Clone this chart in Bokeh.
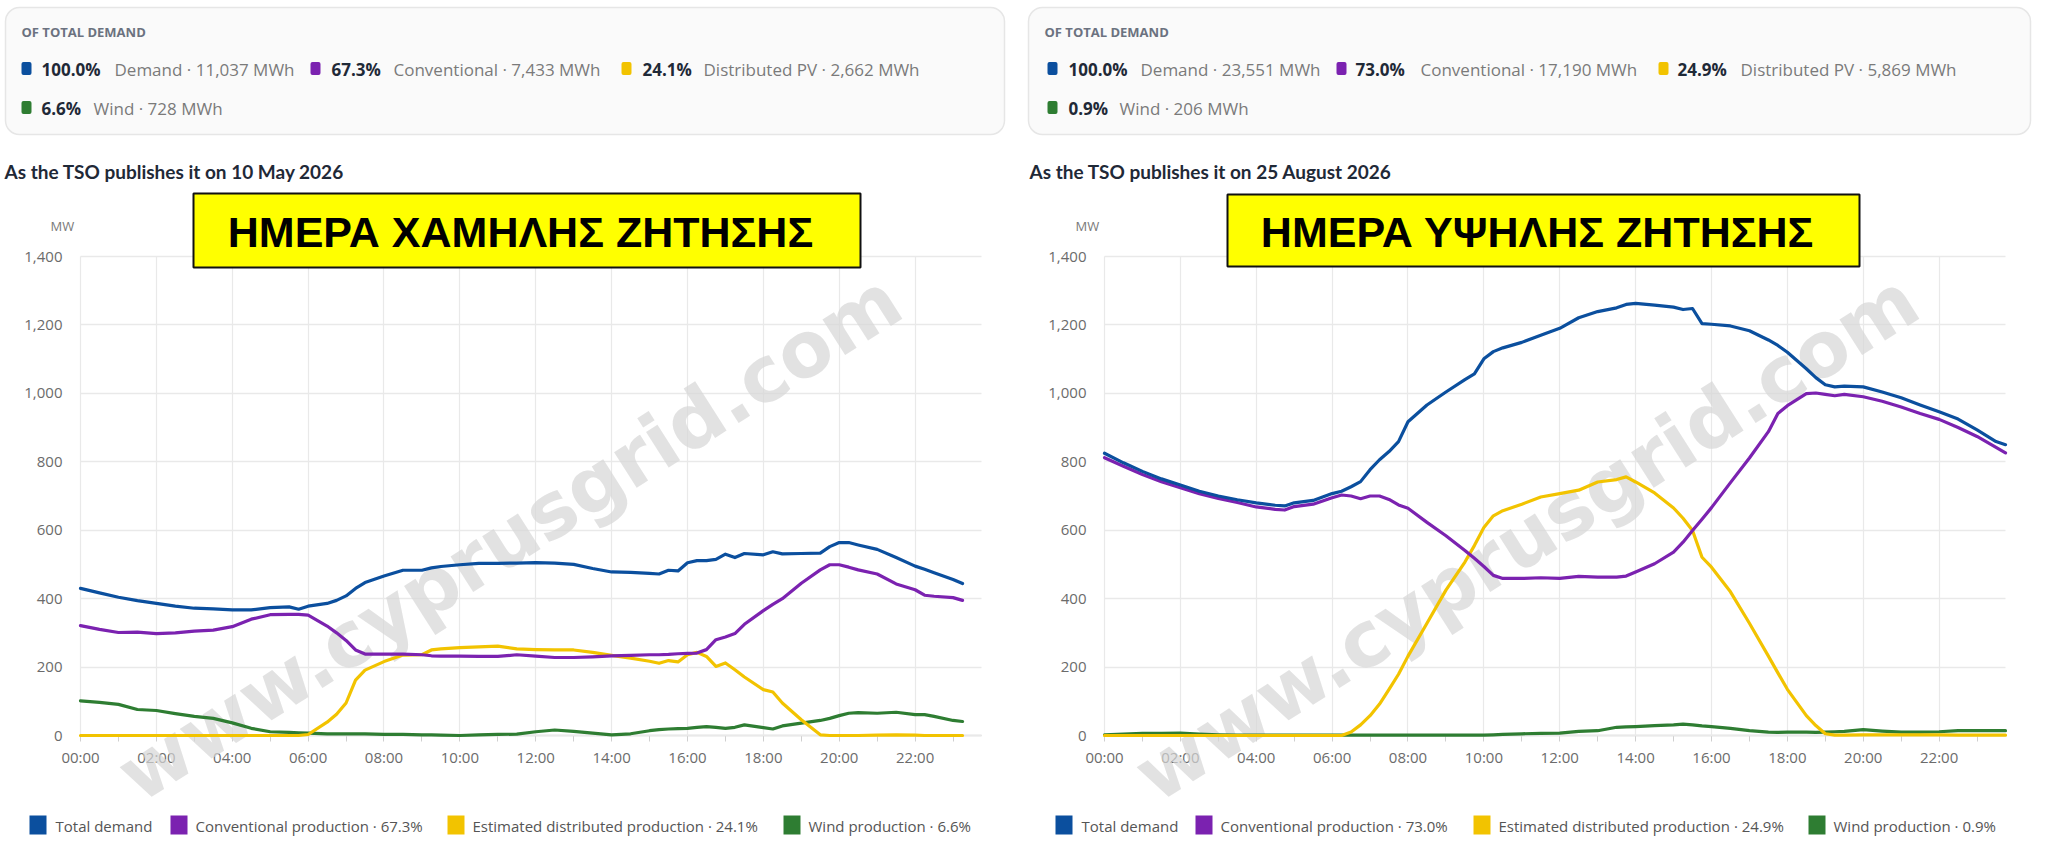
import math
from bokeh.plotting import figure
from bokeh.models import (Range1d, FixedTicker, NumeralTickFormatter, Label, LinearAxis,
                          Grid, BoxAnnotation, ColumnDataSource)
from bokeh.layouts import row
from bokeh.embed import file_html
from bokeh.resources import INLINE

# ---------------------------------------------------------------- data
X_TICK_HOURS = [0, 2, 4, 6, 8, 10, 12, 14, 16, 18, 20, 22]
X_TICK_LABELS = ["00:00", "02:00", "04:00", "06:00", "08:00", "10:00",
                 "12:00", "14:00", "16:00", "18:00", "20:00", "22:00"]
X_MINOR_HOURS = [1, 3, 5, 7, 9, 11, 13, 15, 17, 19, 21, 23]
Y_TICKS = [0, 200, 400, 600, 800, 1000, 1200, 1400]
X_MAX_HOURS = 23.75
Y_MAX_MW = 1400

# --- 10 May 2026 (low demand day)
LEFT_TIMES = ["00:00", "00:30", "01:00", "01:30", "02:00", "02:30", "03:00", "03:30", "04:00", "04:30",
              "05:00", "05:30", "05:45", "06:00", "06:30", "06:45", "07:00", "07:15", "07:30", "08:00",
              "08:30", "09:00", "09:15", "09:30", "10:00", "10:30", "11:00", "11:30", "12:00", "12:30",
              "13:00", "13:30", "14:00", "14:30", "15:00", "15:15", "15:30", "15:45", "16:00", "16:15",
              "16:30", "16:45", "17:00", "17:15", "17:30", "18:00", "18:15", "18:30", "19:00", "19:30",
              "19:45", "20:00", "20:15", "20:30", "21:00", "21:30", "22:00", "22:15", "22:30", "23:00",
              "23:15"]
LEFT_DEMAND = [430, 417, 404, 394, 386, 378, 372, 370, 367, 367,
               374, 376, 369, 378, 386, 395, 408, 430, 447, 466,
               483, 483, 490, 494, 499, 503, 503, 504, 505, 504,
               500, 488, 478, 477, 474, 472, 483, 481, 505, 511,
               511, 515, 530, 520, 532, 528, 537, 531, 532, 533,
               552, 564, 564, 557, 544, 520, 495, 486, 476, 456,
               444]
LEFT_CONVENTIONAL = [321, 310, 301, 302, 298, 300, 305, 308, 318, 340,
                     353, 354, 354, 352, 320, 300, 278, 250, 238, 238,
                     238, 236, 233, 232, 232, 231, 231, 236, 232, 228,
                     228, 230, 233, 234, 236, 236, 237, 239, 240, 241,
                     251, 280, 288, 298, 325, 365, 383, 400, 445, 484,
                     499, 499, 492, 484, 472, 443, 426, 410, 407, 403,
                     395]
LEFT_PV = [0, 0, 0, 0, 0, 0, 0, 0, 0, 0,
           0, 0, 0, 3, 39, 62, 95, 162, 191, 216,
           235, 236, 250, 253, 257, 259, 261, 253, 251, 250,
           250, 243, 234, 226, 217, 211, 219, 215, 236, 243,
           231, 202, 212, 192, 171, 134, 127, 95, 46, 2,
           0, 0, 0, 0, 1, 2, 1, 0, 0, 0,
           0]
LEFT_WIND = [101, 97, 91, 76, 73, 64, 56, 50, 37, 21,
             11, 9, 8, 7, 5, 5, 5, 5, 5, 3,
             3, 2, 2, 1, 0, 2, 3, 4, 11, 16,
             12, 7, 2, 5, 14, 17, 19, 20, 21, 24,
             26, 24, 21, 24, 31, 23, 19, 28, 36, 44,
             50, 58, 65, 67, 65, 68, 61, 61, 56, 44,
             41]
LEFT_SUMMARY_PCT = ["100.0%", "67.3%", "24.1%", "6.6%"]
LEFT_SUMMARY_TEXT = ["Demand · 11,037 MWh", "Conventional · 7,433 MWh",
                     "Distributed PV · 2,662 MWh", "Wind · 728 MWh"]
LEFT_LEGEND = ["Total demand", "Conventional production · 67.3%",
               "Estimated distributed production · 24.1%", "Wind production · 6.6%"]
LEFT_SUBTITLE = "As the TSO publishes it on 10 May 2026"
LEFT_BANNER = "ΗΜΕΡΑ ΧΑΜΗΛΗΣ ΖΗΤΗΣΗΣ"

# --- 25 August 2026 (high demand day)
RIGHT_TIMES = ["00:00", "00:30", "01:00", "01:30", "02:00", "02:30", "03:00", "03:30", "04:00", "04:30",
               "04:45", "05:00", "05:30", "06:00", "06:15", "06:30", "06:45", "07:00", "07:15", "07:30",
               "07:45", "08:00", "08:30", "09:00", "09:30", "09:45", "10:00", "10:15", "10:30", "11:00",
               "11:30", "12:00", "12:30", "13:00", "13:30", "13:45", "14:00", "14:30", "15:00", "15:15",
               "15:30", "15:45", "16:00", "16:30", "17:00", "17:30", "17:45", "18:00", "18:30", "18:45",
               "19:00", "19:15", "19:30", "20:00", "20:30", "21:00", "21:30", "22:00", "22:30", "23:00",
               "23:30", "23:45"]
RIGHT_DEMAND = [825, 797, 772, 750, 732, 714, 700, 689, 680, 673,
                671, 680, 687, 707, 714, 727, 742, 777, 806, 830,
                859, 917, 966, 1004, 1040, 1057, 1101, 1122, 1133, 1149,
                1170, 1190, 1221, 1239, 1250, 1260, 1263, 1258, 1252, 1245,
                1248, 1204, 1202, 1197, 1183, 1156, 1140, 1120, 1072, 1046,
                1025, 1019, 1021, 1019, 1004, 987, 966, 946, 925, 893,
                859, 850]
RIGHT_CONVENTIONAL = [812, 787, 763, 742, 724, 707, 693, 681, 668, 661,
                      659, 669, 676, 695, 703, 700, 692, 700, 700, 690,
                      674, 664, 623, 584, 541, 518, 494, 468, 459, 459,
                      461, 459, 465, 463, 463, 466, 478, 502, 536, 565,
                      599, 632, 666, 739, 811, 888, 941, 964, 999, 1001,
                      997, 993, 997, 990, 977, 960, 941, 924, 900, 874,
                      842, 826]
RIGHT_PV = [0, 0, 0, 0, 0, 0, 0, 0, 0, 0,
            0, 0, 0, 0, 0, 10, 31, 58, 92, 135,
            179, 232, 328, 425, 507, 555, 608, 642, 657, 676,
            697, 707, 717, 741, 748, 756, 741, 709, 665, 635,
            599, 521, 492, 420, 328, 232, 183, 135, 58, 29,
            5, 1, 1, 2, 2, 2, 2, 2, 1, 1,
            1, 1]
RIGHT_WIND = [2, 4, 6, 6, 7, 4, 2, 1, 1, 1,
              1, 1, 1, 1, 1, 1, 1, 1, 1, 1,
              1, 1, 1, 1, 1, 1, 1, 2, 3, 5,
              6, 7, 12, 14, 24, 25, 26, 29, 31, 33,
              31, 28, 26, 21, 14, 10, 9, 10, 10, 9,
              10, 11, 12, 17, 13, 10, 10, 11, 14, 14,
              14, 14]
RIGHT_SUMMARY_PCT = ["100.0%", "73.0%", "24.9%", "0.9%"]
RIGHT_SUMMARY_TEXT = ["Demand · 23,551 MWh", "Conventional · 17,190 MWh",
                      "Distributed PV · 5,869 MWh", "Wind · 206 MWh"]
RIGHT_LEGEND = ["Total demand", "Conventional production · 73.0%",
                "Estimated distributed production · 24.9%", "Wind production · 0.9%"]
RIGHT_SUBTITLE = "As the TSO publishes it on 25 August 2026"
RIGHT_BANNER = "ΗΜΕΡΑ ΥΨΗΛΗΣ ΖΗΤΗΣΗΣ"

SERIES_KEYS = ["demand", "conventional", "pv", "wind"]
COLORS = {"demand": "#0b4f9e", "conventional": "#7b22b0", "pv": "#f2c300", "wind": "#2e7d32"}

# ---------------------------------------------------------------- layout (page pixels)
FIG_W, FIG_H = 1016, 838
PAGE_TOP = 8
FRAME_TOP, FRAME_BOTTOM = 264, 743     # page y of 1,400 MW and 0 MW
PLOT_W = 901                           # pixels for 0 .. 23:45
UI_FONT = "Open Sans"


def to_hours(ts):
    return [int(t[:2]) + int(t[3:]) / 60.0 for t in ts]


def make_chart(page_x0, plot_left, times, values, summary_pct, summary_text,
               legend_labels, subtitle, banner, lay):
    # the frame covers the whole canvas; the chart area is bounded by axis/grid bounds
    px_h = PLOT_W / X_MAX_HOURS
    px_mw = (FRAME_BOTTOM - FRAME_TOP) / Y_MAX_MW
    cl = plot_left - page_x0                     # canvas x of 00:00
    cb = FRAME_BOTTOM - PAGE_TOP                 # canvas y of 0 MW
    x_rng = Range1d(-cl / px_h, (FIG_W - cl) / px_h)
    y_rng = Range1d(-(FIG_H - cb) / px_mw, cb / px_mw)

    p = figure(width=FIG_W, height=FIG_H, output_backend="svg", toolbar_location=None,
               x_range=x_rng, y_range=y_rng, x_axis_type=None, y_axis_type=None,
               min_border=0, min_border_left=0, min_border_right=0,
               min_border_top=0, min_border_bottom=0,
               outline_line_color=None, background_fill_color="white",
               border_fill_color="white")

    def sx(px):
        return px - page_x0

    def sy(py):
        return FIG_H - (py - PAGE_TOP)

    def lab(text, px, py, size, color, bold=False, font=UI_FONT, align="left",
            angle=0.0, level="annotation", alpha=1.0):
        p.add_layout(Label(x=sx(px), y=sy(py), x_units="screen", y_units="screen",
                           text=text, text_font=font, text_font_size=f"{size}px",
                           text_color=color, text_alpha=alpha,
                           text_font_style="bold" if bold else "normal",
                           text_align=align, text_baseline="middle", angle=angle,
                           level=level))

    def box(l, r, t, b, fill, line=None, lw=1.0, radius=0, level="annotation"):
        p.add_layout(BoxAnnotation(left=sx(l), right=sx(r), top=sy(t), bottom=sy(b),
                                   left_units="screen", right_units="screen",
                                   top_units="screen", bottom_units="screen",
                                   fill_color=fill, fill_alpha=1.0,
                                   line_color=line, line_width=lw, line_alpha=1.0,
                                   border_radius=radius, level=level))

    # grid (bounded to the chart area)
    xgrid = Grid(dimension=0, ticker=FixedTicker(ticks=X_TICK_HOURS),
                 cross_bounds=(0, Y_MAX_MW), grid_line_color="#e9e9e9", grid_line_width=1.2)
    ygrid = Grid(dimension=1, ticker=FixedTicker(ticks=Y_TICKS),
                 cross_bounds=(0, X_MAX_HOURS), grid_line_color="#e9e9e9", grid_line_width=1.5)
    p.add_layout(xgrid)
    p.add_layout(ygrid)

    # watermark (behind the lines)
    lab("www.cyprusgrid.com", lay["wm"][0], lay["wm"][1], 77, "#d6d6d6", bold=True,
        font="DejaVu Sans", align="center", angle=math.radians(32.5), level="underlay",
        alpha=0.7)

    # axes
    xaxis = LinearAxis(fixed_location=0, bounds=(0, X_MAX_HOURS),
                       ticker=FixedTicker(ticks=X_TICK_HOURS, minor_ticks=X_MINOR_HOURS),
                       major_label_overrides={h: s for h, s in zip(X_TICK_HOURS, X_TICK_LABELS)},
                       axis_line_color="#cfcfcf", axis_line_width=1.5,
                       major_tick_line_color="#cfcfcf", minor_tick_line_color="#cfcfcf",
                       major_tick_in=0, major_tick_out=6, minor_tick_in=0, minor_tick_out=6,
                       major_label_standoff=5, level="underlay")
    yaxis = LinearAxis(fixed_location=0, bounds=(0, Y_MAX_MW),
                       ticker=FixedTicker(ticks=Y_TICKS, minor_ticks=[]),
                       formatter=NumeralTickFormatter(format="0,0"),
                       axis_line_color=None, major_tick_line_color=None,
                       minor_tick_line_color=None, major_label_standoff=12)
    for ax in (xaxis, yaxis):
        ax.major_label_text_font = UI_FONT
        ax.major_label_text_font_size = "15px"
        ax.major_label_text_color = "#6b6b6b"
    p.add_layout(xaxis, "below")
    p.add_layout(yaxis, "left")

    # lines
    src = ColumnDataSource(dict(x=to_hours(times), **values))
    for key in ["wind", "pv", "conventional", "demand"]:
        p.line("x", key, source=src, line_color=COLORS[key], line_width=3.2,
               line_join="round", line_cap="round")

    # summary card
    c0, c1 = lay["card"]
    box(c0, c1, 15, 142, "#fafafa", "#e6e6e6", 1.5, radius=14)
    lab("OF TOTAL DEMAND", c0 + 16, 39, 13, "#6b7280", bold=True)
    for i, key in enumerate(SERIES_KEYS):
        yy = 76 if i < 3 else 115
        qx = lay["sq"][i]
        box(qx, qx + 10, yy - 6.5, yy + 6.5, COLORS[key], None, 0, radius=2)
        lab(summary_pct[i], lay["pct"][i], yy + 1, 17, "#1f2937", bold=True)
        lab(summary_text[i], lay["txt"][i], yy + 1, 17, "#7a7a7a")

    # subtitle, unit
    lab(subtitle, lay["sub"], 179, 19, "#1f2937", bold=True, font="Lato")
    lab("MW", lay["mw"], 233, 13, "#7a7a7a")

    # banner
    bl, br, bt, bb = lay["banner"]
    box(bl, br, bt, bb, "#ffff00", "#111111", 2.0)
    lab(banner, lay["banner_txt"], 239, 43, "#000000", bold=True,
        font="Liberation Sans", align="center")

    # legend
    for i, key in enumerate(SERIES_KEYS):
        qx = lay["lsq"][i]
        box(qx, qx + 17, 823, 842, COLORS[key], None, 0)
        lab(legend_labels[i], lay["ltx"][i], 833, 15, "#555555")
    return p


LEFT_LAYOUT = dict(card=(13, 1012), sq=[29, 318, 629, 29], pct=[49, 339, 650, 49],
                   txt=[122, 401, 711, 101], sub=12, mw=58,
                   banner=(201, 868, 201, 275), banner_txt=528,
                   lsq=[37, 178, 455, 791], ltx=[63, 203, 480, 816], wm=(517, 545))
RIGHT_LAYOUT = dict(card=(1036, 2038), sq=[1055, 1344, 1666, 1055], pct=[1076, 1363, 1685, 1076],
                    txt=[1148, 1428, 1748, 1127], sub=1037, mw=1083,
                    banner=(1235, 1867, 202, 274), banner_txt=1545,
                    lsq=[1063, 1203, 1481, 1816], ltx=[1089, 1228, 1506, 1841], wm=(1534, 545))

left = make_chart(8, 88, LEFT_TIMES,
                  dict(demand=LEFT_DEMAND, conventional=LEFT_CONVENTIONAL, pv=LEFT_PV, wind=LEFT_WIND),
                  LEFT_SUMMARY_PCT, LEFT_SUMMARY_TEXT, LEFT_LEGEND, LEFT_SUBTITLE, LEFT_BANNER,
                  LEFT_LAYOUT)
right = make_chart(8 + FIG_W, 1112, RIGHT_TIMES,
                   dict(demand=RIGHT_DEMAND, conventional=RIGHT_CONVENTIONAL, pv=RIGHT_PV, wind=RIGHT_WIND),
                   RIGHT_SUMMARY_PCT, RIGHT_SUMMARY_TEXT, RIGHT_LEGEND, RIGHT_SUBTITLE, RIGHT_BANNER,
                   RIGHT_LAYOUT)

page = row(left, right, spacing=0)
open("out.html", "w").write(file_html(page, INLINE))
